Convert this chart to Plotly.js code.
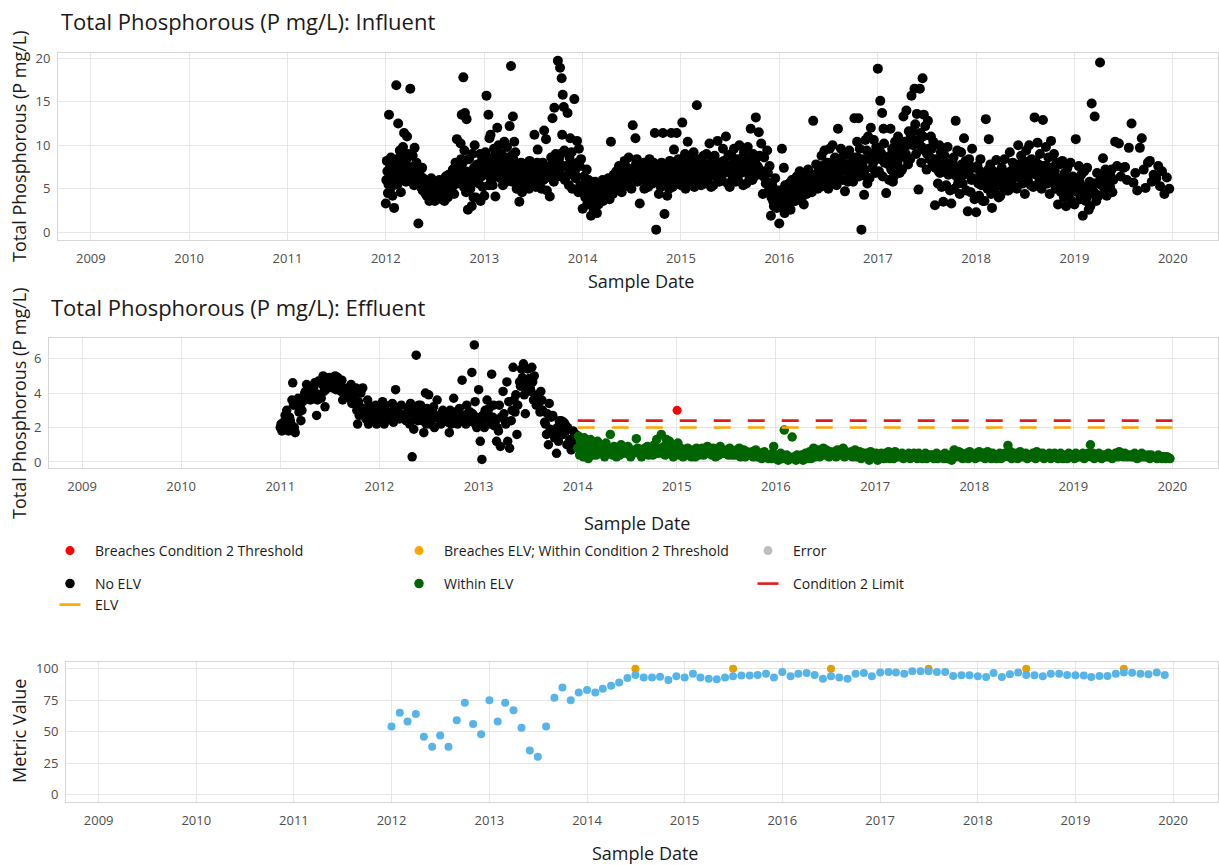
<!DOCTYPE html>
<html>
<head>
<meta charset="utf-8">
<script src="https://cdn.plot.ly/plotly-3.0.1.min.js"></script>
<style>html,body{margin:0;padding:0;background:#fff;}#chart{width:1219px;height:865px;}</style>
</head>
<body>
<div id="chart"></div>
<script>
// ---------------- DATA ----------------
// Influent total phosphorous (P mg/L): one array of sample values per month, from 2012-01
const influentStart = [2012, 1];
const influentTP = [
  [3.3,8.2,4.5,13.5,7.4,6.0,8.6,5.2,6.8,4.2],
  [2.8,7.8,16.9,5.5,12.5,8.5,6.2,9.4,7.0,4.6],
  [6.0,9.8,11.4,7.2,5.8,8.4,11.0,6.6,9.0,7.5],
  [16.5,6.2,8.8,5.4,9.7,7.0,5.9,8.0,6.5],
  [1.0,6.8,5.2,7.4,4.8,6.2,5.6,6.0,4.5],
  [4.2,5.6,3.6,5.0,6.2,4.4,3.9,5.4],
  [3.6,4.8,5.6,4.0,6.0,4.6,5.2,3.8],
  [4.6,3.6,6.4,5.2,4.0,6.6,5.8,4.4],
  [5.0,7.2,4.4,8.0,6.0,10.7,5.6,7.6],
  [6.5,10.2,13.5,8.0,17.8,5.2,9.4,13.7,7.0,4.6,13.0],
  [2.6,8.4,5.0,3.0,9.0,6.2,4.0,7.4,10.0],
  [4.0,7.8,5.6,9.0,3.6,6.4,8.2,5.2],
  [4.2,9.2,15.7,6.8,13.5,5.4,10.8,8.0,11.2,6.0],
  [5.4,9.6,4.1,8.2,12.0,6.4,10.0,7.0],
  [6.2,9.0,5.4,10.4,7.6,8.6,5.8,9.8],
  [6.6,12.2,19.1,5.8,13.3,8.4,10.4,7.2,9.2],
  [5.0,7.6,3.5,6.4,8.0,4.6,7.0,5.6],
  [5.6,7.8,6.4,5.0,8.2,6.8,5.4,7.4],
  [6.0,11.2,5.2,8.0,9.5,6.8,7.4,5.6],
  [5.0,8.0,11.7,6.2,10.7,4.8,7.2,6.6],
  [4.1,8.6,13.1,5.8,14.3,7.2,9.0,6.4],
  [19.7,8.4,18.9,6.4,17.7,11.2,15.8,7.6,14.4,9.4,6.0],
  [6.4,13.7,5.4,10.8,8.0,9.2,5.0,7.2],
  [15.3,6.2,10.5,4.6,9.6,7.6,5.4,8.4],
  [2.7,6.4,4.0,7.2,3.2,5.4,6.0,4.6],
  [1.9,5.0,2.6,5.8,3.4,4.4,2.2,5.4],
  [3.2,5.6,4.0,6.0,3.6,5.0,4.4,5.2],
  [4.0,6.2,3.8,10.4,5.0,5.8,4.4,6.6],
  [4.8,7.0,5.4,7.6,6.0,5.2,6.6,4.6],
  [5.2,8.2,6.0,7.4,5.6,8.6,6.6,7.0],
  [5.0,12.3,6.4,10.8,7.8,8.4,5.8,7.0],
  [3.3,7.6,6.2,8.0,5.0,7.0,6.6,5.8],
  [5.2,8.4,6.0,7.6,5.6,8.0,6.8,11.4],
  [0.3,6.8,4.4,7.6,5.2,8.0,6.0,11.4],
  [2.1,6.4,4.2,7.8,5.0,8.2,6.0,11.4],
  [5.2,9.5,6.6,11.4,7.8,5.6,8.4,6.2],
  [5.4,12.6,6.6,9.0,5.0,8.2,7.2,10.4],
  [5.8,8.6,6.4,9.2,5.2,7.6,7.0],
  [14.6,6.0,8.4,5.4,7.8,6.6,8.8],
  [5.6,9.0,6.2,10.2,7.4,5.2,8.2],
  [5.4,8.8,6.4,10.5,7.2,5.8,8.0],
  [6.0,9.6,6.8,11.0,7.6,5.6,8.8],
  [5.2,9.0,6.2,9.6,7.4,5.8,8.4],
  [6.0,10.0,6.8,8.6,5.4,9.2,7.4],
  [5.6,9.8,6.4,11.9,8.0,6.0,9.0],
  [6.4,13.2,7.6,11.5,8.8,6.8,10.2],
  [4.4,8.6,5.6,9.4,6.8,4.8,7.6],
  [1.9,5.4,3.0,6.2,4.0,2.8,4.8],
  [1.0,4.8,9.6,3.0,7.4,2.2,5.4,3.6],
  [3.2,5.6,2.6,6.0,4.2,3.6,5.0],
  [3.6,6.4,4.2,7.0,5.0,3.8,5.8],
  [3.2,6.6,4.4,7.2,5.4,4.8,6.2],
  [4.6,12.8,5.4,7.8,6.2,5.0,7.0],
  [5.2,8.8,6.0,9.4,7.0,5.6,8.0],
  [5.0,9.6,6.4,10.0,7.6,5.8,8.6],
  [5.4,11.9,6.6,9.6,7.8,6.0,8.8],
  [4.7,9.0,5.8,9.4,7.0,6.2,8.2],
  [5.8,13.1,7.0,10.4,8.6,13.1,6.4,9.6],
  [0.3,8.0,4.3,10.6,6.4,9.4,5.6,11.0],
  [6.2,12.0,7.4,10.6,8.8,6.8,9.8],
  [18.8,7.0,15.1,9.0,13.7,6.4,11.9,10.2,8.0],
  [4.5,8.4,6.0,11.9,7.2,9.6,5.8],
  [6.4,10.4,7.6,11.0,8.6,6.8,9.8],
  [7.2,13.3,8.6,14.0,10.0,7.8,11.6],
  [8.4,15.7,10.0,16.5,12.4,9.0,13.6],
  [4.9,16.5,8.0,17.7,11.0,13.5,9.4,12.2],
  [7.2,12.8,8.4,11.0,9.6,7.6,10.4],
  [3.1,8.4,5.6,10.0,6.8,9.2,5.2],
  [3.5,8.8,5.4,9.8,6.6,7.6,4.8],
  [3.3,8.0,5.0,12.8,6.4,9.4,5.6],
  [4.4,9.2,5.6,10.8,7.0,8.2,4.8],
  [2.4,8.4,4.6,9.6,6.2,7.4,3.8],
  [2.3,7.6,4.2,8.4,5.4,6.4,3.6],
  [3.6,13.0,5.0,10.7,6.6,7.8,4.4],
  [2.8,7.0,4.6,8.3,5.6,6.4,4.0],
  [4.2,7.4,5.2,8.4,6.0,6.8,4.8],
  [4.8,9.2,5.6,8.0,6.6,7.4,5.2],
  [5.0,10.0,6.2,8.8,7.2,5.6,8.2],
  [4.4,9.4,6.0,10.0,7.4,5.4,8.4],
  [5.2,13.2,6.6,10.3,7.8,5.8,9.0],
  [5.0,12.9,6.2,9.8,7.6,5.6,8.6],
  [4.4,10.5,5.8,9.0,7.0,5.0,8.0],
  [3.2,7.8,4.6,8.2,5.8,4.0,6.8],
  [3.0,7.4,4.4,8.0,5.4,3.6,6.4],
  [3.2,10.7,4.6,7.6,5.8,3.8,6.6],
  [1.9,7.0,3.6,7.4,4.8,2.6,5.8],
  [3.0,14.8,4.4,13.3,5.6,3.6,6.8],
  [4.2,19.5,5.4,8.5,6.4,4.8,7.2],
  [4.2,6.8,5.2,7.2,4.6,6.0],
  [10.4,7.6,10.2,6.4],
  [7.4,7.5,6.0,9.7],
  [12.5,5.7,6.8,4.8],
  [9.7,10.8,7.2,5.1],
  [8.0,8.2,5.8,6.6],
  [6.2,7.6,5.3,7.0],
  [4.4,6.3,5.0]
];
// Additional influent samples in the dense central band, per month from 2012-01
const influentCore = [
  [6.0,7.0,5.5],[7.0,6.0,8.0],[7.5,8.5,6.5],[7.0,6.0,7.5],[5.8,6.4,5.2],[4.6,5.0,4.2],
  [4.4,5.0,4.2],[5.0,4.6,5.4],[6.2,5.4,6.8],[7.2,8.4,6.0],[6.4,5.4,7.0],[6.8,6.0,7.2],
  [7.4,8.6,6.6],[7.6,8.8,6.8],[7.2,8.0,6.8],[7.8,6.8,8.8],[6.2,5.4,6.8],[6.6,6.0,7.0],
  [6.6,7.2,6.2],[6.8,6.0,7.6],[7.6,6.8,8.0],[8.0,7.2,9.0],[7.6,6.6,8.6],[7.0,6.4,8.0],
  [5.0,4.4,5.8],[3.8,4.4,3.2],[4.6,4.2,5.4],[5.2,5.6,4.8],[5.8,6.4,5.6],[6.4,7.2,6.0],
  [6.8,7.2,6.2],[6.4,7.2,6.0],[6.8,7.2,6.4],[6.4,7.0,5.6],[6.6,7.0,5.6],[7.0,7.4,6.6],
  [6.8,7.6,6.2],[7.2,6.8,8.0],[7.0,6.4,7.4],[7.0,7.8,6.6],[7.0,7.6,6.8],[7.6,8.2,7.0],
  [7.0,7.8,6.6],[7.6,8.0,7.0],[7.4,8.4,7.0],[8.0,8.6,7.4],[6.4,7.0,5.8],[4.0,3.6,4.4],
  [4.0,4.4,3.4],[4.4,4.8,4.0],[4.8,5.4,4.4],[5.4,5.8,5.0],[6.0,6.6,5.6],[7.2,7.6,6.6],
  [7.4,8.0,7.0],[7.6,8.2,7.0],[7.4,7.8,6.8],[8.0,8.6,7.6],[7.8,8.4,7.2],[8.4,9.0,8.0],
  [8.8,9.4,8.4],[8.2,7.8,8.8],[8.4,9.0,8.0],[9.6,10.4,9.0],[11.0,11.6,10.6],[10.4,11.4,9.8],
  [9.0,9.6,8.6],[7.4,8.0,7.0],[7.2,8.0,6.8],[7.4,8.6,7.0],[7.4,7.8,6.6],[6.8,7.6,6.0],
  [6.0,5.6,7.0],[6.2,5.6,7.2],[5.8,6.0,5.2],[6.2,6.6,5.6],[6.8,7.0,6.2],[7.4,7.8,6.8],
  [7.2,8.0,6.6],[7.4,8.2,7.0],[7.0,7.6,6.6],[6.6,7.4,6.2],[5.4,6.2,5.0],[5.0,5.8,4.8],
  [5.4,6.0,5.0],[4.4,5.2,4.0],[5.0,5.6,4.6],[5.8,6.0,5.4],[5.6,5.4,6.4],
  [],[],[],[],[],[],[]
];

// Effluent, "No ELV" category: monthly sample values from 2011-01 to 2013-12
const effluentNoElvStart = [2011, 1];
const effluentNoElv = [
  [2.0,1.8,2.3,1.9,2.7,2.1,3.0],
  [1.8,2.4,3.6,4.6,3.3,2.0,1.7],
  [3.4,3.7,3.2,2.4,3.0,3.5],
  [4.0,4.5,4.2,3.9,3.6,4.3],
  [4.1,4.6,2.7,3.6,4.7,3.9],
  [3.7,5.0,3.2,4.2,4.6,4.4],
  [4.9,4.7,4.3,4.8,4.5,5.0,4.2],
  [4.9,4.5,4.1,4.75,3.6,4.3,3.9],
  [4.1,4.3,3.7,3.9,4.5,3.4,4.0],
  [3.9,4.3,2.2,3.5,2.7,3.2,4.0],
  [4.3,3.1,2.5,2.9,3.6,2.2,3.3],
  [2.7,3.1,2.4,2.5,3.3,2.2,2.9],
  [3.1,2.4,3.5,2.7,2.2,3.3,2.9],
  [2.5,2.9,2.6,3.4,2.3,3.0],
  [4.2,3.1,2.5,2.8,3.3,2.6],
  [2.7,2.4,3.1,2.9,2.2,3.4],
  [0.3,1.9,3.1,6.2,2.7,2.4,3.3],
  [3.3,2.4,1.7,2.8,4.0,2.2,3.1],
  [3.9,2.2,2.5,2.9,3.2,2.0,2.7],
  [3.6,2.5,2.2,2.8,3.0,2.4],
  [2.7,2.4,1.7,3.0,2.2,2.6],
  [3.7,2.9,2.2,2.5,3.1,2.4],
  [4.75,2.7,2.2,3.3,2.5,2.9],
  [2.9,5.2,2.3,6.8,3.5,2.6,2.0],
  [4.2,1.2,0.15,2.7,2.5,2.0,3.0],
  [3.6,3.1,2.2,5.1,2.6,3.3],
  [2.1,1.2,1.8,3.3,0.9,2.6],
  [4.1,2.4,4.65,1.2,3.5,0.8],
  [2.4,5.5,2.9,3.9,1.6,3.3],
  [4.65,5.4,5.7,3.9,2.8,4.2],
  [5.4,4.85,4.1,5.5,4.65,3.6,5.0],
  [3.3,3.9,2.9,4.1,3.6,3.0],
  [2.3,1.6,1.0,3.4,1.9,2.6],
  [2.7,1.4,0.5,2.0,1.2,2.4],
  [2.4,1.6,2.2,1.8,1.0,2.0],
  [1.2,0.7,1.8,1.4,0.9,1.6]
];
// Additional "No ELV" samples in the dense band, per month from 2011-01
const effluentNoElvCore = [
  [2.2,1.9],[2.6,2.2],[3.3,2.9],[4.1,3.8],[4.3,4.0],[4.5,4.1],
  [4.6,4.4],[4.4,4.2],[3.9,4.2],[3.4,3.0],[3.0,2.7],[2.8,2.6],
  [2.8,2.6],[2.7,2.8],[2.9,2.7],[2.6,2.8],[2.8,2.5],[2.6,2.9],
  [2.6,2.4],[2.6,2.7],[2.5,2.3],[2.6,2.8],[2.6,2.4],[2.5,2.8],
  [2.3,2.6],[2.8,2.5],[2.4,2.0],[2.8,2.2],[3.0,3.6],[4.4,4.9],
  [4.6,4.3],[3.6,3.4],[2.2,2.8],[1.8,1.6],[1.9,2.3],[1.3,1.1]
];

// Effluent, "Within ELV" category: monthly sample values from 2014-01 to 2019-12
const effluentWithinElvStart = [2014, 1];
const effluentWithinElv = [
  [0.8,1.5,0.4,1.2,0.6,1.0,0.3,1.4],
  [0.5,1.1,0.2,0.9,1.3,0.6,0.4],
  [0.7,1.0,0.4,1.2,0.5,0.8],
  [0.6,0.9,0.3,1.1,0.5,0.7],
  [1.6,0.8,0.4,0.9,0.6,0.3],
  [0.7,0.4,1.0,0.5,0.8,0.6],
  [0.5,0.9,0.6,0.3,0.7,0.5],
  [0.6,1.35,0.8,0.5,0.7,0.3],
  [0.5,0.8,0.6,0.9,0.4,0.7],
  [0.7,0.4,1.0,0.6,1.3,0.5],
  [0.8,1.6,0.5,0.9,0.4,1.3],
  [0.6,1.2,0.5,0.8,0.3,0.7],
  [0.5,1.1,0.4,0.8,0.6,0.3],
  [0.6,0.4,0.8,0.5,0.7,0.3],
  [0.5,0.7,0.3,0.8,0.6,0.4],
  [0.6,0.8,0.4,0.7,0.5,0.9],
  [0.5,0.7,0.4,0.8,0.6,0.3],
  [0.6,0.4,0.9,0.5,0.7,0.5],
  [0.5,0.7,0.4,0.8,0.6,0.4],
  [0.6,0.4,0.7,0.5,0.8,0.3],
  [0.5,0.7,0.3,0.6,0.5,0.4],
  [0.4,0.6,0.3,0.5,0.7,0.3],
  [0.3,0.5,0.2,0.4,0.6,0.3],
  [0.3,0.2,0.4,0.2,0.5,0.9],
  [0.2,0.4,0.1,0.3,0.5,0.2],
  [1.85,0.2,0.4,0.1,0.3,0.2],
  [1.45,0.2,0.3,0.1,0.4,0.2],
  [0.2,0.4,0.1,0.3,0.5,0.2],
  [0.3,0.6,0.2,0.5,0.8,0.3],
  [0.5,0.7,0.3,0.6,0.4,0.8],
  [0.4,0.7,0.5,0.3,0.6,0.5],
  [0.5,0.6,0.3,0.7,0.4,0.5],
  [0.4,0.8,0.3,0.6,0.5,0.4],
  [0.5,0.6,0.3,0.4,0.7,0.3],
  [0.4,0.6,0.2,0.5,0.3,0.5],
  [0.3,0.5,0.1,0.6,0.4,0.3],
  [0.3,0.5,0.1,0.4,0.2,0.5],
  [0.4,0.2,0.5,0.3,0.6,0.2],
  [0.3,0.5,0.2,0.6,0.4,0.3],
  [0.4,0.3,0.5,0.2,0.4,0.3],
  [0.3,0.5,0.2,0.4,0.3,0.5],
  [0.4,0.2,0.5,0.3,0.4,0.2],
  [0.3,0.5,0.2,0.4,0.3,0.4],
  [0.4,0.2,0.3,0.5,0.2,0.3],
  [0.3,0.4,0.2,0.5,0.3,0.2],
  [0.2,0.4,0.1,0.3,0.7,0.3],
  [0.4,0.6,0.3,0.5,0.2,0.4],
  [0.3,0.5,0.2,0.6,0.4,0.3],
  [0.4,0.2,0.5,0.3,0.6,0.3],
  [0.3,0.5,0.2,0.4,0.6,0.3],
  [0.4,0.2,0.5,0.3,0.4,0.2],
  [0.3,0.5,0.2,0.4,0.3,0.5],
  [0.4,0.96,0.3,0.6,0.2,0.4],
  [0.3,0.5,0.2,0.4,0.6,0.3],
  [0.4,0.3,0.5,0.2,0.4,0.3],
  [0.3,0.5,0.4,0.2,0.6,0.4],
  [0.4,0.3,0.5,0.2,0.4,0.3],
  [0.3,0.5,0.2,0.4,0.3,0.5],
  [0.4,0.2,0.3,0.5,0.3,0.2],
  [0.3,0.4,0.2,0.5,0.3,0.4],
  [0.4,0.2,0.5,0.3,0.4,0.3],
  [0.3,0.5,0.2,0.4,0.3,0.5],
  [0.4,1.0,0.3,0.5,0.2,0.4],
  [0.3,0.5,0.4,0.2,0.4,0.3],
  [0.4,0.3,0.5,0.3,0.4,0.2],
  [0.3,0.5,0.4,0.3,0.6,0.4],
  [0.4,0.3,0.5,0.4,0.3,0.4],
  [0.3,0.4,0.3,0.5,0.3,0.2],
  [0.4,0.3,0.5,0.3,0.4,0.3],
  [0.3,0.4,0.2,0.4,0.3,0.3],
  [0.3,0.2,0.4,0.3,0.3,0.2],
  [0.3,0.2,0.3,0.25,0.2]
];

// Effluent breach of Condition 2 threshold
const breachDates = ['2015-01-02'];
const breachValues = [3.0];
// Categories with no samples in this period
const breachElvDates = [null];
const breachElvValues = [null];
const errorDates = [null];
const errorValues = [null];

// Limits
const limitDates = ['2014-01-01', '2020-01-01'];
const condition2Limit = [2.4, 2.4];
const elvLimit = [2.0, 2.0];

// Metric value, monthly from 2012-01 to 2019-12
const metricStart = [2012, 1];
const metricValues = [
  54,65,58,64,46,38,47,38,59,73,56,48,
  75,58,73,67,53,35,30,54,77,85,75,81,
  83,81,84,86.5,89,92.5,95,93,93,93.5,91,94,
  93,96,93,92,91.5,93,94,94.5,94.5,95,96,93,
  97.4,94,96,96.6,95,92,94,93,92,96,96.6,94,
  97,97.4,97,96,98,98,98,97.4,97.4,94.2,94.7,94.7,
  94,93.4,96.6,93.4,95.5,97,95,94.7,94,96,96,95,
  94.7,94.5,93.4,94.2,94.2,96,97,96.8,96,95.5,97,95
];
const metricTargetDates = ['2014-07-01','2015-07-01','2016-07-01','2017-07-01','2018-07-01','2019-07-01'];
const metricTargetValues = [100,100,100,100,100,100];

const yearTicks = ['2009','2010','2011','2012','2013','2014','2015','2016','2017','2018','2019','2020'];

// ---------------- HELPERS ----------------
function pad(n){return (n<10?'0':'')+n;}
function mergeMonths(a, b){
  return a.map((vals,k)=>{
    const extra = (b && b[k]) ? b[k] : [];
    const out=[]; const n=Math.max(vals.length, extra.length);
    for(let i=0;i<n;i++){
      if(i<vals.length) out.push(vals[i]);
      if(i<extra.length) out.push(extra[i]);
    }
    return out;
  });
}
function monthlySamples(start, months){
  const xs=[], ys=[];
  months.forEach((vals, k)=>{
    const m0 = start[1]-1+k;
    const y = start[0]+Math.floor(m0/12);
    const m = (m0%12)+1;
    vals.forEach((v,i)=>{
      const day = 1+Math.floor(i*28/vals.length);
      xs.push(y+'-'+pad(m)+'-'+pad(day));
      ys.push(v);
    });
  });
  return {x:xs, y:ys};
}
function monthlySeries(start, vals){
  const xs=[];
  vals.forEach((v,k)=>{
    const m0=start[1]-1+k;
    xs.push((start[0]+Math.floor(m0/12))+'-'+pad((m0%12)+1)+'-01');
  });
  return xs;
}

const W=1219, H=865;
const px=(x)=>x/W, py=(y)=>1-y/H;

const inf = monthlySamples(influentStart, mergeMonths(influentTP, influentCore));
const noElv = monthlySamples(effluentNoElvStart, mergeMonths(effluentNoElv, effluentNoElvCore));
const within = monthlySamples(effluentWithinElvStart, effluentWithinElv);
const metricDates = monthlySeries(metricStart, metricValues);

const c2Color = '#e31a1c', elvColor = '#ffa500';
const traces = [
  {x:inf.x, y:inf.y, xaxis:'x', yaxis:'y', type:'scatter', mode:'markers',
   marker:{color:'#000000', size:10}, showlegend:false, hoverinfo:'x+y'},
  {x:breachDates, y:breachValues, xaxis:'x2', yaxis:'y2', type:'scatter', mode:'markers',
   name:'Breaches Condition 2 Threshold', legend:'legend', marker:{color:'#ff0000', size:9}},
  {x:breachElvDates, y:breachElvValues, xaxis:'x2', yaxis:'y2', type:'scatter', mode:'markers',
   name:'Breaches ELV; Within Condition 2 Threshold', legend:'legend', marker:{color:'#ffa500', size:9}},
  {x:errorDates, y:errorValues, xaxis:'x2', yaxis:'y2', type:'scatter', mode:'markers',
   name:'Error', legend:'legend', marker:{color:'#bebebe', size:9}},
  {x:noElv.x, y:noElv.y, xaxis:'x2', yaxis:'y2', type:'scatter', mode:'markers',
   name:'No ELV', legend:'legend2', marker:{color:'#000000', size:9.5}},
  {x:within.x, y:within.y, xaxis:'x2', yaxis:'y2', type:'scatter', mode:'markers',
   name:'Within ELV', legend:'legend2', marker:{color:'#006400', size:9.5}},
  // limit lines (drawn in the plot)
  {x:limitDates, y:condition2Limit, xaxis:'x2', yaxis:'y2', type:'scatter', mode:'lines',
   showlegend:false, line:{color:c2Color, width:2.6, dash:'17px,17px'}},
  {x:limitDates, y:elvLimit, xaxis:'x2', yaxis:'y2', type:'scatter', mode:'lines',
   showlegend:false, line:{color:elvColor, width:2.6, dash:'17px,17px'}},
  // legend keys for the limit lines (short dash symbols)
  {x:[null], y:[null], xaxis:'x2', yaxis:'y2', type:'scatter', mode:'markers',
   name:'Condition 2 Limit', legend:'legend2',
   marker:{symbol:'line-ew', size:15, color:c2Color, line:{color:c2Color, width:2.6}}},
  {x:[null], y:[null], xaxis:'x2', yaxis:'y2', type:'scatter', mode:'markers',
   name:'ELV', legend:'legend3',
   marker:{symbol:'line-ew', size:15, color:elvColor, line:{color:elvColor, width:2.6}}},
  {x:metricTargetDates, y:metricTargetValues, xaxis:'x3', yaxis:'y3', type:'scatter', mode:'markers',
   marker:{color:'#e69f00', size:8}, showlegend:false},
  {x:metricDates, y:metricValues, xaxis:'x3', yaxis:'y3', type:'scatter', mode:'markers',
   marker:{color:'#56b4e9', size:8}, showlegend:false}
];

const tickFont = {family:'Open Sans', size:13, color:'#4d4d4d'};
function xax(l, anchor){
  return {domain:[px(l), px(1218)], anchor:anchor, type:'date',
    range:['2008-09-01','2020-06-17'], tickvals:yearTicks, ticktext:yearTicks,
    showgrid:true, gridcolor:'#e6e6e6', gridwidth:1, zeroline:false,
    showline:true, mirror:true, linecolor:'#d6d6d6', linewidth:1,
    ticks:'outside', ticklen:6, tickcolor:'rgba(0,0,0,0)', tickfont:tickFont};
}
function yax(top, bottom, range, vals, anchor){
  return {domain:[py(bottom), py(top)], anchor:anchor, range:range, tickvals:vals,
    showgrid:true, gridcolor:'#e6e6e6', gridwidth:1, zeroline:false,
    showline:true, mirror:true, linecolor:'#d6d6d6', linewidth:1,
    ticks:'outside', ticklen:4, tickcolor:'rgba(0,0,0,0)', tickfont:tickFont};
}
const titleFont = {family:'Open Sans', size:22, color:'#1a1a1a'};
const axFont = {family:'Open Sans', size:18, color:'#1a1a1a'};
function ann(text, x, y, font, extra){
  return Object.assign({text:text, x:px(x), y:py(y), xref:'paper', yref:'paper',
    showarrow:false, font:font, xanchor:'center', yanchor:'middle'}, extra||{});
}
const legFont = {family:'Open Sans', size:14, color:'#1a1a1a'};
function leg(y){
  return {orientation:'h', x:px(45), y:py(y), xanchor:'left', yanchor:'middle',
    itemwidth:40, itemsizing:'trace', entrywidth:294, entrywidthmode:'pixels', font:legFont,
    bgcolor:'rgba(0,0,0,0)', traceorder:'normal', itemclick:false, itemdoubleclick:false};
}

const layout = {
  width:W, height:H, margin:{l:0,r:0,t:0,b:0},
  paper_bgcolor:'#ffffff', plot_bgcolor:'#ffffff',
  font:{family:'Open Sans', color:'#1a1a1a'},
  showlegend:true,
  xaxis:xax(58,'y'), yaxis:yax(53,240,[-0.89,20.6],[0,5,10,15,20],'x'),
  xaxis2:xax(49,'y2'), yaxis2:yax(338,468,[-0.35,7.2],[0,2,4,6],'x2'),
  xaxis3:xax(66,'y3'), yaxis3:yax(662,802,[-5.9,105.3],[0,25,50,75,100],'x3'),
  legend:leg(551), legend2:leg(584), legend3:leg(605),
  annotations:[
    ann('Total Phosphorous (P mg/L): Influent', 59, 21, titleFont, {xanchor:'left'}),
    ann('Total Phosphorous (P mg/L): Effluent', 49, 307, titleFont, {xanchor:'left'}),
    ann('Total Phosphorous (P mg/L)', 19, 146, axFont, {textangle:-90}),
    ann('Total Phosphorous (P mg/L)', 19, 403, axFont, {textangle:-90}),
    ann('Metric Value', 19, 731, axFont, {textangle:-90}),
    ann('Sample Date', 641, 281, axFont),
    ann('Sample Date', 637, 523, axFont),
    ann('Sample Date', 645, 853, axFont)
  ]
};

Plotly.newPlot('chart', traces, layout, {displayModeBar:false});
</script>
</body>
</html>
